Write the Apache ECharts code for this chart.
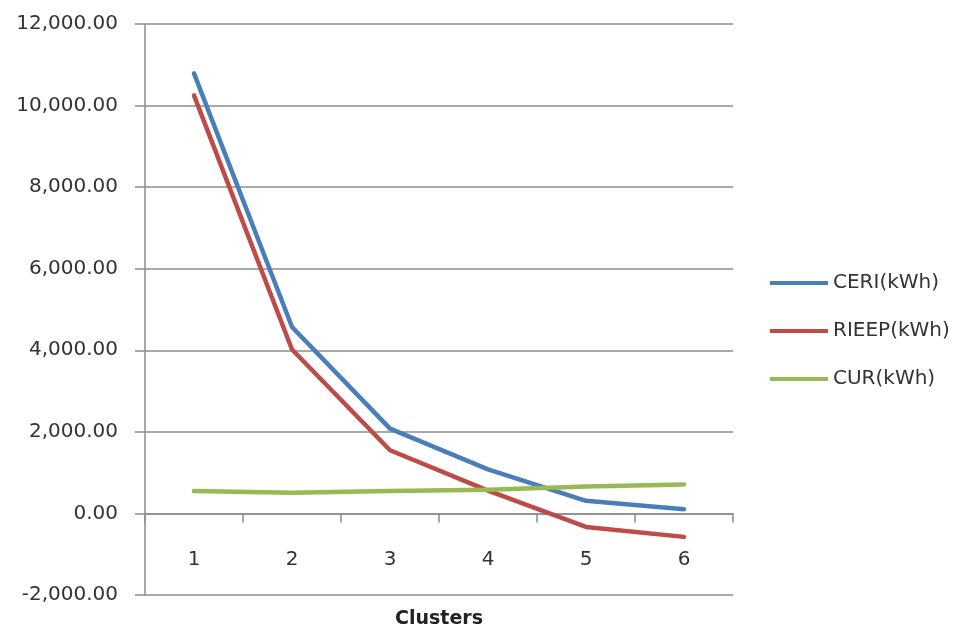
<!DOCTYPE html>
<html>
<head>
<meta charset="utf-8">
<script src="https://cdn.jsdelivr.net/npm/echarts@6/dist/echarts.min.js"></script>
<style>
html,body{margin:0;padding:0;background:#fff;}
#chart{width:955px;height:628px;}
</style>
</head>
<body>
<div id="chart"></div>
<script>
var categories = ['1', '2', '3', '4', '5', '6'];
var ceri = [10790, 4570, 2080, 1080, 310, 105];
var rieep = [10250, 4020, 1550, 560, -330, -575];
var cur = [550, 505, 550, 580, 660, 712];
var seriesNames = ['CERI(kWh)', 'RIEEP(kWh)', 'CUR(kWh)'];
var xAxisTitle = 'Clusters';

function fmt(v) {
  var neg = v < 0;
  var s = Math.abs(v).toFixed(2);
  var parts = s.split('.');
  parts[0] = parts[0].replace(/\B(?=(\d{3})+(?!\d))/g, ',');
  return (neg ? '-' : '') + parts[0] + '.' + parts[1];
}

var FONT = 'DejaVu Sans';
var chart = echarts.init(document.getElementById('chart'), null, {renderer: 'canvas'});
var colors = ['#4a7ebb', '#be4b48', '#98b954'];
function line(name, data, color) {
  return {
    name: name, type: 'line', data: data, symbol: 'none',
    lineStyle: {color: color, width: 4.5, cap: 'round', join: 'round'},
    itemStyle: {color: color}
  };
}
chart.setOption({
  animation: false,
  backgroundColor: '#ffffff',
  color: colors,
  grid: {left: 145, right: 222, top: 24, bottom: 33, containLabel: false, outerBoundsMode: 'none'},
  legend: {
    orient: 'vertical', left: 765, top: 267,
    icon: 'rect', itemWidth: 58, itemHeight: 4, itemGap: 26,
    textStyle: {fontFamily: FONT, fontSize: 20, color: '#333', lineHeight: 22},
    data: seriesNames
  },
  xAxis: {
    type: 'category', data: categories, boundaryGap: true,
    axisLine: {onZero: true, lineStyle: {color: '#8c8c8c', width: 1.5}},
    axisTick: {show: true, length: 9, lineStyle: {color: '#8c8c8c', width: 1.5}},
    axisLabel: {fontFamily: FONT, fontSize: 20, color: '#333', margin: -45},
    name: xAxisTitle, nameLocation: 'middle', nameGap: 15,
    nameTextStyle: {fontFamily: FONT, fontSize: 19, fontWeight: 'bold', color: '#222'},
    splitLine: {show: false}
  },
  yAxis: {
    type: 'value', min: -2000, max: 12000, interval: 2000,
    axisLine: {show: true, lineStyle: {color: '#8c8c8c', width: 1.5}},
    axisTick: {show: true, length: 10, lineStyle: {color: '#8c8c8c', width: 1.5}},
    axisLabel: {fontFamily: FONT, fontSize: 20, color: '#333', margin: 27, formatter: fmt},
    splitLine: {show: true, lineStyle: {color: '#8c8c8c', width: 1.5}}
  },
  series: [
    line(seriesNames[0], ceri, colors[0]),
    line(seriesNames[1], rieep, colors[1]),
    line(seriesNames[2], cur, colors[2])
  ]
});
</script>
</body>
</html>
